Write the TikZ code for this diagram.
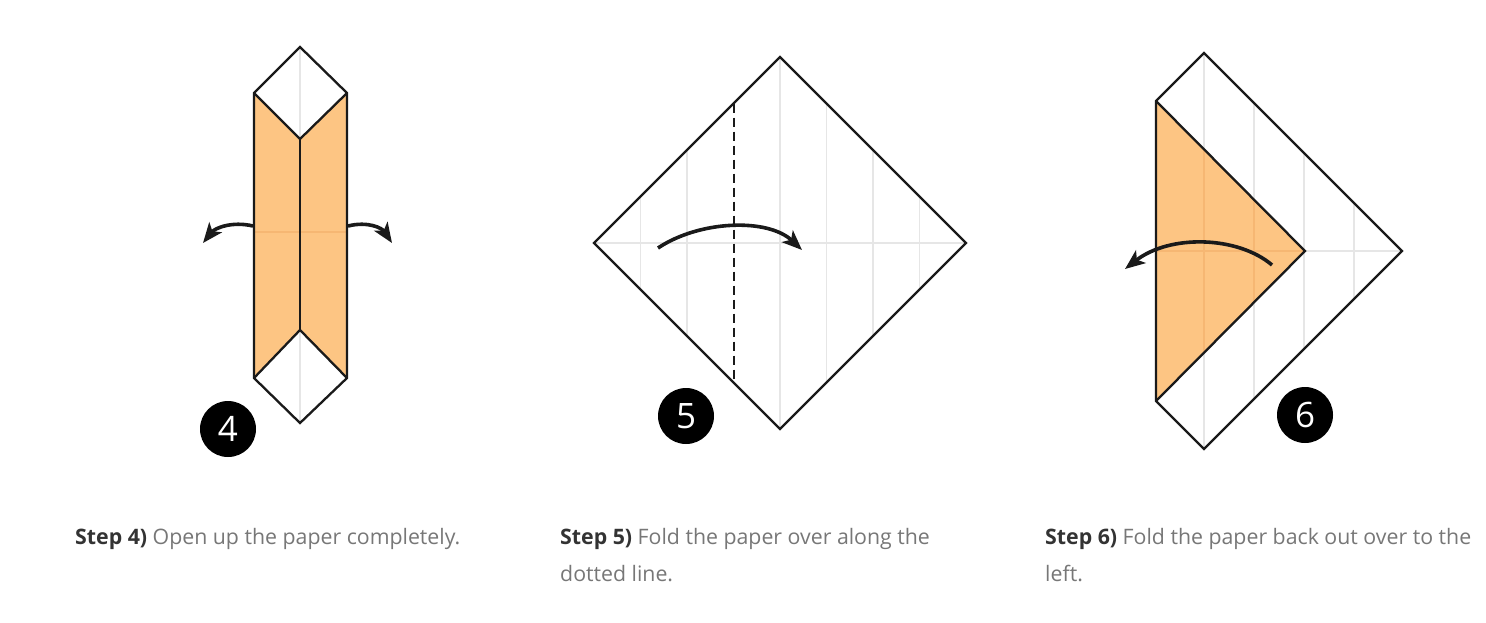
\documentclass[tikz,border=0pt]{standalone}
\usepackage{fontspec}
\setmainfont{Open Sans}
\usetikzlibrary{arrows.meta}
\definecolor{paper}{HTML}{FDC583}
\definecolor{paperline}{HTML}{F6B773}
\definecolor{crease}{HTML}{E6E6E6}
\definecolor{ink}{HTML}{1A1A1A}
\definecolor{bodytext}{HTML}{777777}
\definecolor{headtext}{HTML}{333333}
\tikzset{
  edge/.style={draw=ink, line width=2.3pt, line join=miter},
  creaseline/.style={draw=crease, line width=1.8pt},
  foldarrow/.style={draw=ink, line width=3.6pt, -{Stealth[length=20pt,width=16pt,inset=5pt]}},
  badge/.style={circle, fill=black, minimum size=56pt, inner sep=0pt, text=white, font=\fontsize{35}{35}\selectfont},
  caption/.style={anchor=base west, inner sep=0pt, text=bodytext, font=\fontsize{21.3}{37}\selectfont},
}
\newcommand{\stephead}[1]{\textcolor{headtext}{\bfseries #1}}
\begin{document}
\begin{tikzpicture}[x=1pt,y=-1pt]
\path[use as bounding box, fill=white] (0,0) rectangle (1486,622);

% ---------------- Step 4 ----------------
\coordinate (t4) at (300,47);
\coordinate (ul4) at (254,93);
\coordinate (ur4) at (347,93);
\coordinate (mt4) at (300,139);
\coordinate (mb4) at (300,330);
\coordinate (ll4) at (254,378);
\coordinate (lr4) at (347,378);
\coordinate (b4) at (300,423);
\fill[paper] (ul4) -- (mt4) -- (mb4) -- (ll4) -- cycle;
\fill[paper] (ur4) -- (mt4) -- (mb4) -- (lr4) -- cycle;
\draw[creaseline] (t4) -- (mt4);
\draw[creaseline] (mb4) -- (b4);
\coordinate (hl4) at (254,232);
\coordinate (hr4) at (347,232);
\draw[draw=paperline, line width=1.8pt] (hl4) -- (hr4);
\draw[edge] (t4) -- (ur4) -- (lr4) -- (b4) -- (ll4) -- (ul4) -- cycle;
\draw[edge] (ul4) -- (mt4) -- (ur4);
\draw[edge] (ll4) -- (mb4) -- (lr4);
\draw[edge] (mt4) -- (mb4);
\coordinate (a4ls) at (253,226);
\coordinate (a4le) at (203,243);
\coordinate (a4rs) at (348,226);
\coordinate (a4re) at (392,243);
\draw[foldarrow] (a4ls) .. controls (232,221) and (215,228) .. (a4le);
\draw[foldarrow] (a4rs) .. controls (368,221) and (382,228) .. (a4re);
\node[badge] (n4) at (228,429) {4};

% ---------------- Step 5 ----------------
\coordinate (t5) at (780,57);
\coordinate (r5) at (966,243);
\coordinate (b5) at (780,429);
\coordinate (l5) at (594,243);
\draw[creaseline] (l5) -- (r5);
\foreach \k in {-3,-2,0,1,2,3}{
  \pgfmathsetmacro{\xx}{780+\k*46.5}
  \pgfmathsetmacro{\hh}{186-abs(\k)*46.5}
  \draw[creaseline] (\xx,243-\hh) -- (\xx,243+\hh);
}
\coordinate (dt5) at (733.5,103.5);
\coordinate (db5) at (733.5,382.5);
\draw[draw=ink, line width=2pt, dash pattern=on 9pt off 5pt] (dt5) -- (db5);
\draw[edge] (t5) -- (r5) -- (b5) -- (l5) -- cycle;
\coordinate (a5s) at (658,248);
\coordinate (a5e) at (802,250);
\draw[foldarrow] (a5s) .. controls (700,220) and (768,218) .. (a5e);
\node[badge] (n5) at (686,416) {5};

% ---------------- Step 6 ----------------
\coordinate (t6) at (1204,53);
\coordinate (r6) at (1402,251);
\coordinate (b6) at (1204,449);
\coordinate (ul6) at (1156,101);
\coordinate (ll6) at (1156,401);
\coordinate (ap6) at (1305,251);
\draw[creaseline] (1156,251) -- (r6);
\foreach \k in {0,1,2,3}{
  \pgfmathsetmacro{\xx}{1204+\k*50}
  \pgfmathsetmacro{\hh}{198-\k*50}
  \draw[creaseline] (\xx,251-\hh) -- (\xx,251+\hh);
}
\fill[paper] (ul6) -- (ap6) -- (ll6) -- cycle;
\begin{scope}
  \clip (ul6) -- (ap6) -- (ll6) -- cycle;
  \draw[draw=paperline, line width=1.8pt] (1156,251) -- (ap6);
  \draw[draw=paperline, line width=1.8pt] (1204,53) -- (1204,449);
  \draw[draw=paperline, line width=1.8pt] (1254,103) -- (1254,399);
\end{scope}
\draw[edge] (ul6) -- (t6) -- (r6) -- (b6) -- (ll6) -- cycle;
\draw[edge] (ul6) -- (ap6) -- (ll6);
\coordinate (a6s) at (1272,265);
\coordinate (a6e) at (1125,269);
\draw[foldarrow] (a6s) .. controls (1238,236) and (1170,234) .. (a6e);
\node[badge] (n6) at (1305,415) {6};

% ---------------- Captions ----------------
\node[caption] (c4) at (75,544) {\stephead{Step 4)} Open up the paper completely.};
\node[caption] (c5a) at (560,544) {\stephead{Step 5)} Fold the paper over along the};
\node[caption] (c5b) at (560,581) {dotted line.};
\node[caption] (c6a) at (1045,544) {\stephead{Step 6)} Fold the paper back out over to the};
\node[caption] (c6b) at (1045,581) {left.};
\end{tikzpicture}
\end{document}
